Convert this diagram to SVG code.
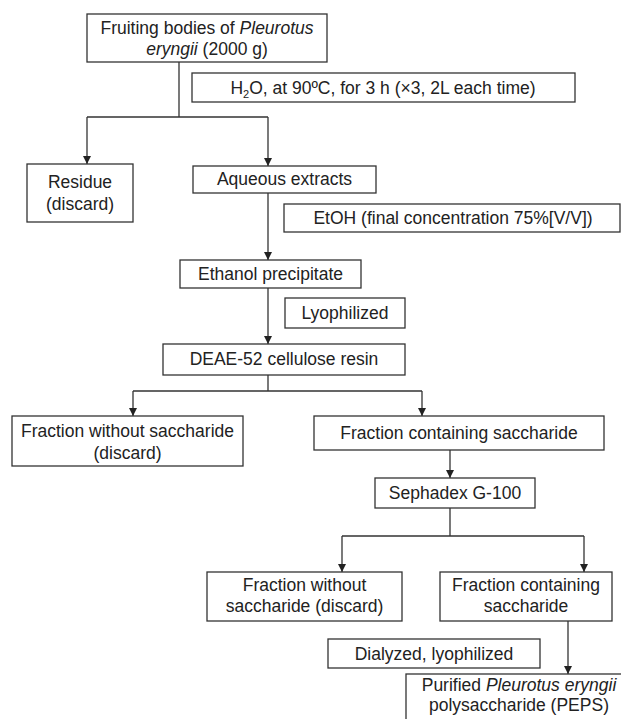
<svg xmlns="http://www.w3.org/2000/svg" width="621" height="719" viewBox="0 0 621 719">
<style>
  .box { fill: #ffffff; stroke: #333333; stroke-width: 1.3; }
  .t { font-family: "Liberation Sans", Arial, sans-serif; font-size: 17.5px; fill: #222222; text-anchor: middle; }
  .i { font-style: italic; }
  .c { fill: none; stroke: #333333; stroke-width: 1.3; }
</style>
<defs>
  <marker id="ah" markerUnits="userSpaceOnUse" markerWidth="9" markerHeight="9" refX="8" refY="4" orient="auto">
    <path d="M0,0 L8,4 L0,8 z" fill="#222222"/>
  </marker>
</defs>
<rect width="621" height="719" fill="#ffffff"/>

<g id="connectors">
  <path class="c" d="M179,62 V117 M87,117 H268"/>
  <path class="c" d="M87,117 V164" marker-end="url(#ah)"/>
  <path class="c" d="M268,117 V166" marker-end="url(#ah)"/>
  <path class="c" d="M268,193 V260" marker-end="url(#ah)"/>
  <path class="c" d="M268,288 V344" marker-end="url(#ah)"/>
  <path class="c" d="M268,375 V391 M133,391 H422"/>
  <path class="c" d="M133,391 V416" marker-end="url(#ah)"/>
  <path class="c" d="M422,391 V416" marker-end="url(#ah)"/>
  <path class="c" d="M450,450 V478" marker-end="url(#ah)"/>
  <path class="c" d="M450,508 V536 M342,536 H584"/>
  <path class="c" d="M342,536 V572" marker-end="url(#ah)"/>
  <path class="c" d="M584,536 V572" marker-end="url(#ah)"/>
  <path class="c" d="M568,621 V674" marker-end="url(#ah)"/>
</g>

<g id="n-fruiting">
  <rect class="box" x="87" y="14" width="240" height="48"/>
  <text class="t" x="207" y="34">Fruiting bodies of <tspan class="i">Pleurotus</tspan></text>
  <text class="t" x="207" y="55"><tspan class="i">eryngii</tspan> (2000 g)</text>
</g>

<g id="n-h2o">
  <rect class="box" x="192" y="73" width="383" height="29"/>
  <text class="t" x="383" y="94">H<tspan dy="4" font-size="11">2</tspan><tspan dy="-4">O, at 90ºC, for 3 h (×3, 2L each time)</tspan></text>
</g>

<g id="n-residue">
  <rect class="box" x="27" y="164" width="106" height="58"/>
  <text class="t" x="80" y="188">Residue</text>
  <text class="t" x="80" y="210">(discard)</text>
</g>

<g id="n-aqueous">
  <rect class="box" x="193" y="166" width="183" height="27"/>
  <text class="t" x="284.5" y="185">Aqueous extracts</text>
</g>

<g id="n-etoh">
  <rect class="box" x="284" y="204" width="336" height="28"/>
  <text class="t" x="453" y="224">EtOH (final concentration 75%[V/V])</text>
</g>

<g id="n-ethanol">
  <rect class="box" x="180" y="260" width="181" height="28"/>
  <text class="t" x="270.5" y="280">Ethanol precipitate</text>
</g>

<g id="n-lyophilized">
  <rect class="box" x="285" y="298" width="120" height="30"/>
  <text class="t" x="345" y="319">Lyophilized</text>
</g>

<g id="n-deae">
  <rect class="box" x="163" y="344" width="242" height="31"/>
  <text class="t" x="284" y="365">DEAE-52 cellulose resin</text>
</g>

<g id="n-frac-without-1">
  <rect class="box" x="12" y="416" width="231" height="50"/>
  <text class="t" x="127.5" y="437">Fraction without saccharide</text>
  <text class="t" x="127.5" y="459">(discard)</text>
</g>

<g id="n-frac-containing-1">
  <rect class="box" x="314" y="416" width="290" height="34"/>
  <text class="t" x="459" y="439">Fraction containing saccharide</text>
</g>

<g id="n-sephadex">
  <rect class="box" x="375" y="478" width="160" height="30"/>
  <text class="t" x="455" y="499">Sephadex G-100</text>
</g>

<g id="n-frac-without-2">
  <rect class="box" x="207" y="572" width="195" height="49"/>
  <text class="t" x="304.5" y="591">Fraction without</text>
  <text class="t" x="304.5" y="612">saccharide (discard)</text>
</g>

<g id="n-frac-containing-2">
  <rect class="box" x="440" y="572" width="172" height="49"/>
  <text class="t" x="526" y="591">Fraction containing</text>
  <text class="t" x="526" y="612">saccharide</text>
</g>

<g id="n-dialyzed">
  <rect class="box" x="328" y="639" width="212" height="29"/>
  <text class="t" x="434" y="660">Dialyzed, lyophilized</text>
</g>

<g id="n-purified">
  <rect class="box" x="406" y="674" width="230" height="70"/>
  <text class="t" x="519" y="691">Purified <tspan class="i">Pleurotus eryngii</tspan></text>
  <text class="t" x="519" y="711">polysaccharide (PEPS)</text>
</g>
</svg>
